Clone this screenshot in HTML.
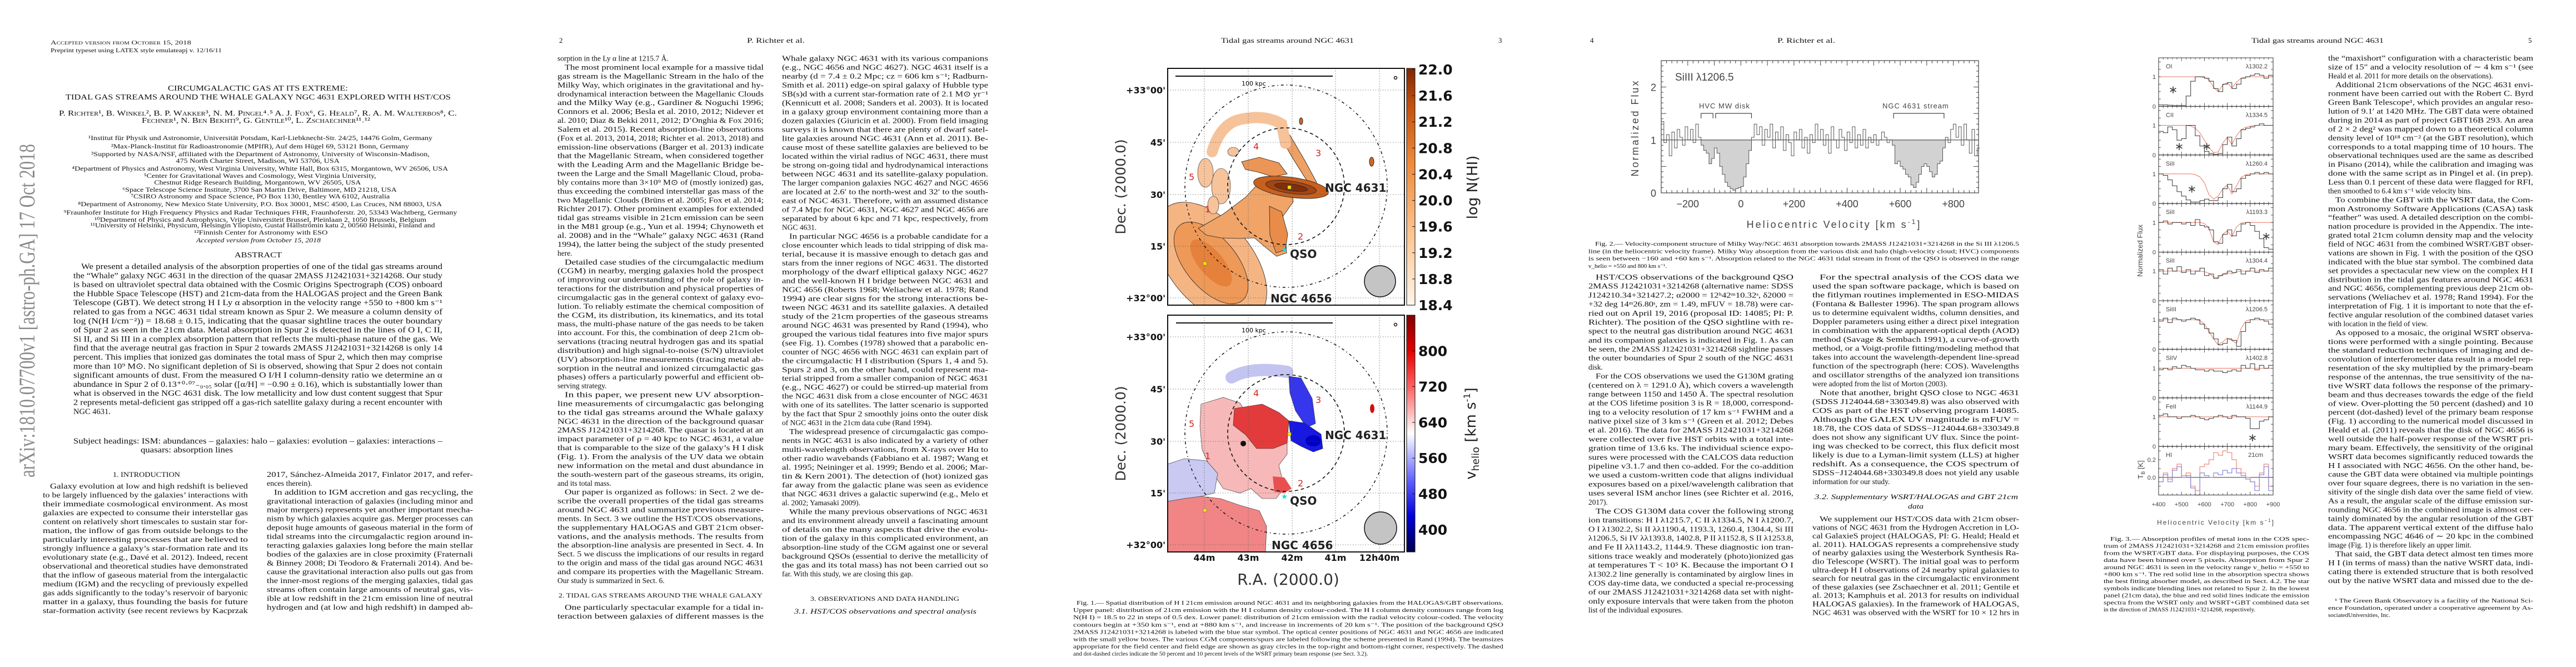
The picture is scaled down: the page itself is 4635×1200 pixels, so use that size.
<!DOCTYPE html>
<html><head><meta charset="utf-8">
<style>
html,body{margin:0;padding:0;background:#fff;}
svg{display:block;}
.tx{font-family:"Liberation Serif",serif;fill:#111;}
.sans{font-family:"DejaVu Sans","Liberation Sans",sans-serif;}
.mono{font-family:"Liberation Sans",sans-serif;fill:#444;}
</style></head>
<body>
<svg id="page" xmlns="http://www.w3.org/2000/svg" width="4635" height="1200" viewBox="0 0 4635 1200">
<rect x="0" y="0" width="4635" height="1200" fill="#fff"/>
<text class="tx" transform="translate(62,859) rotate(-90)" font-size="40" fill="#8a8a8a" style="fill:#8a8a8a" textLength="600" lengthAdjust="spacingAndGlyphs">arXiv:1810.07700v1  [astro-ph.GA]  17 Oct 2018</text>
<g id="text-layer"></g>

<!-- FIG 1 -->
<defs>
<linearGradient id="gOr" x1="0" y1="1" x2="0" y2="0">
<stop offset="0" stop-color="#fff5eb"/><stop offset="0.3" stop-color="#fdc590"/><stop offset="0.6" stop-color="#f08a3a"/><stop offset="0.85" stop-color="#c0500e"/><stop offset="1" stop-color="#7f2704"/></linearGradient>
<linearGradient id="gVel" x1="0" y1="1" x2="0" y2="0">
<stop offset="0" stop-color="#00004a"/><stop offset="0.15" stop-color="#0000d8"/><stop offset="0.3" stop-color="#6060ff"/><stop offset="0.5" stop-color="#ffffff"/><stop offset="0.7" stop-color="#ff6060"/><stop offset="0.85" stop-color="#e00000"/><stop offset="1" stop-color="#800000"/></linearGradient>
<clipPath id="mapClip"><rect x="0" y="0" width="426" height="426"/></clipPath>
<clipPath id="f2clip"><rect x="2989" y="109" width="571" height="143"/></clipPath>
</defs>

<g id="fig1-upper" transform="translate(2101,123)">
 <g clip-path="url(#mapClip)">
  <g transform="translate(78,350) rotate(50)">
   <ellipse cx="0" cy="0" rx="128" ry="75" fill="#f5b583" stroke="#222" stroke-width="0.8"/>
   <ellipse cx="0" cy="0" rx="88" ry="46" fill="#ee9957" stroke="#222" stroke-width="0.8"/>
   <ellipse cx="0" cy="0" rx="52" ry="22" fill="#e5813b"/>
  </g>
  <polygon points="55,288 100,262 140,232 165,205 195,200 222,205 226,240 206,268 212,300 214,332 196,338 176,322 156,305 128,306 96,305 70,300" fill="#f0a468" stroke="#222" stroke-width="0.8"/>
  <polygon points="133,168 165,160 200,170 215,190 190,195 160,186 140,182" fill="#eb9556" stroke="#222" stroke-width="0.8"/>
  <polygon points="203,112 220,120 248,168 268,205 260,216 244,192 224,160 208,132" fill="#efa064" stroke="#222" stroke-width="0.8"/>
  <path d="M80,150 Q95,100 130,92 Q175,82 205,100 L212,135" fill="none" stroke="#f6c29a" stroke-width="20" stroke-linecap="round"/>
  <g fill="#f6c39b" stroke="#222" stroke-width="0.6">
   <ellipse cx="68" cy="188" rx="14" ry="26"/><ellipse cx="96" cy="212" rx="17" ry="32"/><ellipse cx="82" cy="246" rx="10" ry="16"/><ellipse cx="118" cy="150" rx="10" ry="8"/>
  </g>
  <polygon points="183,248 205,258 216,298 212,326 195,332 184,300" fill="#e98c4a" stroke="#222" stroke-width="0.8"/>
  <g transform="translate(222,214) rotate(8)">
   <ellipse rx="68" ry="18" fill="#c8601e" stroke="#222" stroke-width="0.8"/>
   <ellipse rx="46" ry="11" fill="#a54513" stroke="#222" stroke-width="0.8"/>
   <ellipse rx="30" ry="6" fill="#7f2f0c" stroke="#222" stroke-width="0.8"/>
  </g>
  <ellipse cx="367" cy="168" rx="4" ry="8" fill="#d06a28" stroke="#222"/>
  <ellipse cx="240" cy="95" rx="3" ry="6" fill="#d06a28" stroke="#222"/>
 </g>
 <g class="grid"></g>
 <circle cx="213" cy="212" r="182" fill="none" stroke="#111" stroke-width="1.5" stroke-dasharray="1.5 5 5 5"/>
 <circle cx="213" cy="212" r="105" fill="none" stroke="#111" stroke-width="1.6" stroke-dasharray="6 5"/>
 <line x1="14" y1="14" x2="297" y2="14" stroke="#111" stroke-width="2"/>
 <text class="sans" x="155" y="31" font-size="11" text-anchor="middle">100 kpc</text>
 <circle cx="410" cy="17" r="2.5" fill="none" stroke="#111" stroke-width="1.5"/>
 <circle cx="382" cy="383" r="28" fill="#c4c4c4" stroke="#111" stroke-width="1.5"/>
 <rect x="216" y="211" width="6" height="6" fill="#f5e600" stroke="#666" stroke-width="0.5"/>
 <rect x="64" y="348" width="6" height="6" fill="#f5e600" stroke="#666" stroke-width="0.5"/>
 <text x="210" y="331" font-size="14" fill="#25d8d8" text-anchor="middle">★</text>
 <text class="sans" x="283" y="222" font-size="20" font-weight="bold" fill="#222">NGC 4631</text>
 <text class="sans" x="220" y="341" font-size="20" font-weight="bold" fill="#222">QSO</text>
 <text class="sans" x="185" y="421" font-size="20" font-weight="bold" fill="#222">NGC 4656</text>
 <g class="sans" font-size="16" fill="#d42020">
  <text x="67" y="259">1</text><text x="234" y="308">2</text><text x="266" y="158">3</text><text x="154" y="146">4</text><text x="38" y="201">5</text>
 </g>
 <rect x="0" y="0" width="426" height="426" fill="none" stroke="#111" stroke-width="2"/>
</g>

<g id="fig1-lower" transform="translate(2101,567)">
 <g clip-path="url(#mapClip)">
  <polygon points="60,160 100,148 130,158 150,190 190,200 215,215 215,250 200,270 210,310 195,330 170,330 150,312 130,320 100,312 80,282 62,242 58,200" fill="#f6b8b8" stroke="#222" stroke-width="0.6"/>
  <polygon points="0,268 30,258 70,262 90,285 84,320 60,326 30,330 0,335" fill="#c9c9f2" stroke="#222" stroke-width="0.6"/>
  <polygon points="0,335 30,330 60,326 95,330 130,342 165,352 178,380 176,426 0,426" fill="#f18585" stroke="#222" stroke-width="0.6"/>
  <polygon points="120,168 170,160 200,175 218,190 215,230 190,240 160,240 140,215 118,198" fill="#e33b3b" stroke="#222" stroke-width="0.6"/>
  <path d="M115,112 Q150,92 215,102" fill="none" stroke="#c4c4f0" stroke-width="22" stroke-linecap="round"/>
  <polygon points="218,110 240,113 260,150 266,195 250,202 230,172 220,140" fill="#3636ec" stroke="#222" stroke-width="0.6"/>
  <polygon points="218,190 246,194 276,214 279,240 262,246 240,236 222,226" fill="#1818e0" stroke="#222" stroke-width="0.6"/>
  <ellipse cx="262" cy="226" rx="14" ry="10" fill="#0000c4"/>
  <polygon points="189,290 210,292 223,312 210,320 192,318" fill="#e85050"/>
  <ellipse cx="368" cy="168" rx="4" ry="8" fill="#d01010"/>
  <circle cx="136" cy="231" r="5" fill="#111"/>
 </g>
 <g class="grid"></g>
 <circle cx="213" cy="212" r="182" fill="none" stroke="#111" stroke-width="1.5" stroke-dasharray="1.5 5 5 5"/>
 <circle cx="213" cy="212" r="105" fill="none" stroke="#111" stroke-width="1.6" stroke-dasharray="6 5"/>
 <line x1="15" y1="14" x2="297" y2="14" stroke="#111" stroke-width="2"/>
 <text class="sans" x="155" y="31" font-size="11" text-anchor="middle">100 kpc</text>
 <circle cx="410" cy="17" r="2.5" fill="none" stroke="#111" stroke-width="1.5"/>
 <circle cx="383" cy="383" r="29" fill="#c4c4c4" stroke="#111" stroke-width="1.5"/>
 <rect x="216" y="211" width="6" height="6" fill="#f5e600" stroke="#666" stroke-width="0.5"/>
 <rect x="64" y="348" width="6" height="6" fill="#f5e600" stroke="#666" stroke-width="0.5"/>
 <text x="210" y="331" font-size="14" fill="#25d8d8" text-anchor="middle">★</text>
 <text class="sans" x="283" y="223" font-size="20" font-weight="bold" fill="#222">NGC 4631</text>
 <text class="sans" x="220" y="341" font-size="20" font-weight="bold" fill="#222">QSO</text>
 <text class="sans" x="187" y="421" font-size="20" font-weight="bold" fill="#222">NGC 4656</text>
 <g class="sans" font-size="16" fill="#d42020">
  <text x="67" y="259">1</text><text x="234" y="308">2</text><text x="266" y="158">3</text><text x="154" y="146">4</text><text x="38" y="201">5</text>
 </g>
 <rect x="0" y="0" width="426" height="426" fill="none" stroke="#111" stroke-width="2"/>
</g>
<rect x="2531" y="123" width="15" height="426" fill="url(#gOr)" stroke="#111" stroke-width="1"/>
<rect x="2531" y="567" width="15" height="426" fill="url(#gVel)" stroke="#111" stroke-width="1"/>
<text class="sans" transform="translate(2658,337) rotate(-90)" font-size="26" text-anchor="middle" fill="#222">log N(HI)</text>
<text class="sans" transform="translate(2655,780) rotate(-90)" font-size="26" text-anchor="middle" fill="#222">v<tspan font-size="18" dy="6">helio</tspan><tspan dy="-6"> [km s</tspan><tspan font-size="16" dy="-10">-1</tspan><tspan dy="10">]</tspan></text>
<text class="sans" transform="translate(2025,336) rotate(-90)" font-size="25" text-anchor="middle" fill="#333">Dec. (2000.0)</text>
<text class="sans" transform="translate(2025,780) rotate(-90)" font-size="25" text-anchor="middle" fill="#333">Dec. (2000.0)</text>
<text class="sans" x="2318" y="1052" font-size="28" text-anchor="middle" fill="#333">R.A. (2000.0)</text>
<g id="fig1-axes"></g>

<!-- FIG 2 -->
<g id="fig2">
 <g id="f2fill"></g>
 <path id="f2line" fill="none" stroke="#555" stroke-width="1"/>
 <line id="f2cont" stroke="#444" stroke-width="1.2"/>
 <g id="f2ticks"></g>
 <rect x="2989" y="109" width="571" height="238" fill="none" stroke="#444" stroke-width="1.2"/>
 <text class="mono" x="3014" y="145" font-size="19">SiIII λ1206.5</text>
 <text class="mono" x="3057" y="195" font-size="13" letter-spacing="1">HVC  MW  disk</text>
 <text class="mono" x="3387" y="195" font-size="13" letter-spacing="1">NGC  4631  stream</text>
 <g id="f2brackets"></g>
 <text class="mono" transform="translate(2948,230) rotate(-90)" font-size="18" text-anchor="middle" letter-spacing="3">Normalized Flux</text>
 <text class="mono" x="3300" y="410" font-size="18" text-anchor="middle" letter-spacing="3">Heliocentric Velocity [km s<tspan font-size="12" dy="-7">-1</tspan><tspan dy="7">]</tspan></text>
</g>

<!-- FIG 3 -->
<g id="fig3"></g>
<text class="mono" transform="translate(3855,451) rotate(-90)" font-size="13" text-anchor="middle">Normalized Flux</text>
<text class="mono" transform="translate(3856,845) rotate(-90)" font-size="13" text-anchor="middle">T<tspan font-size="9" dy="3">B</tspan><tspan dy="-3"> [K]</tspan></text>
<text class="mono" x="3987" y="944" font-size="12" text-anchor="middle" letter-spacing="2">Heliocentric Velocity [km s<tspan font-size="8" dy="-5">−1</tspan><tspan dy="5">]</tspan></text>
</svg>

<script>
const NS="http://www.w3.org/2000/svg";
// ---------- Fig 1 axis data ----------
const decTickLabels=["+33°00'","45'","30'","15'","+32°00'"];
const decTickPos=[39,133,227,320,413];
const raTickLabels=["44m","43m","42m","41m","12h40m"];
const raTickPos=[66,145,224,302,381];
const nhiTicks=[22.0,21.6,21.2,20.8,20.4,20.0,19.6,19.2,18.8,18.4];
const velTicks=[800,720,640,560,480,400];
// ---------- Fig 2 data ----------
const f2VelStart=-300, f2VelStep=10;
const f2Flux=[1.35,0.95,1.1,0.7,1.15,0.85,1.2,1.05,0.9,1.25,
1.0,1.2,0.95,1.3,1.05, 0.9,0.8,0.75,0.55,0.65, 0.85,0.75,0.5,0.35,0.2, 0.12,0.08,0.05,0.08,0.1,
0.12,0.3,0.55,0.8,1.05, 1.3,1.1,1.25,0.9,1.2, 1.05,1.3,0.85,1.15,1.0, 1.25,0.8,1.1,0.95,0.7,
1.15,1.0,1.2,0.85,1.05, 0.75,1.1,0.95,1.3,1.0, 1.2,0.9,1.1,0.75,1.25, 1.0,0.85,1.2,1.05,0.8,
1.15,0.95,1.25,0.85,1.1, 0.9,1.2,0.85,1.05,0.95, 1.1,0.9,1.0,1.15,1.05, 0.95,1.0,0.9,0.55,0.6,
0.5,0.45,0.35,0.3,0.15, 0.1,0.2,0.35,0.5,0.55, 0.5,0.4,0.3,0.35,0.55, 0.6,0.85,1.05,0.95,1.2,
1.3,1.05,1.25,0.9,1.3, 1.0,0.75,1.2,0.7,0.85];
const f2FillRanges=[[-160,45],[560,775]];
const f2Brackets=[[-150,-105],[-95,40],[575,765]];
const f2XTicks=[-200,0,200,400,600,800];
const f2XTickLabels=["−200","0","+200","+400","+600","+800"];
const f2YTicks=[0,1,2];
// ---------- Fig 3 data ----------
const f3BinStart=400, f3BinStep=20;
const ionNames=["OI","CII","SiII","SiII","SiII","SiIII","SiIV","FeII"];
const lineNames=["λ1302.2","λ1334.5","λ1260.4","λ1193.3","λ1304.4","λ1206.5","λ1402.8","λ1144.9"];
const fluxOI=[0.05,0.05,0.04,0.03,0.03,0.03,0.35,0.85,1.0,1.0,0.95,0.85,0.6,0.5,0.75,0.8,0.6,0.75,0.95,1.0,1.05,1.1,1.05,0.95,1.05];
const fluxCII=[0.8,0.75,0.95,0.85,0.5,0.55,1.0,1.0,0.65,0.3,0.12,0.05,0.02,0.05,0.35,0.6,0.3,0.55,0.85,0.9,0.95,1.0,1.05,1.0,1.0];
const fluxSiII1260=[1.0,0.95,0.8,0.6,0.4,0.25,0.12,0.05,0.05,0.1,0.15,0.1,0.1,0.2,0.5,0.65,0.4,0.5,0.85,0.95,1.0,1.05,1.0,1.05,1.0];
const fluxSiII1193=[1.0,1.05,0.95,1.0,1.0,0.95,1.0,0.9,1.1,0.9,0.85,0.75,0.35,0.3,0.6,0.75,0.55,0.7,0.95,1.0,0.9,0.7,0.45,0.15,0.1];
const fluxSiII1304=[1.05,0.9,1.1,1.0,1.15,0.95,1.05,0.9,1.0,1.1,0.85,0.9,0.75,0.85,0.9,1.0,0.95,1.05,0.9,1.0,1.1,0.95,1.05,1.0,1.1];
const fluxSiIII=[0.95,1.05,0.9,1.05,1.0,0.95,1.0,1.05,1.0,0.85,0.7,0.55,0.35,0.15,0.2,0.35,0.3,0.1,0.6,0.9,1.0,1.05,1.0,0.95,0.85];
const fluxSiIV=[0.95,1.0,0.95,1.05,1.0,1.1,1.05,1.0,0.95,0.95,0.9,0.95,0.9,0.9,0.85,0.9,0.95,0.9,1.1,1.0,1.15,0.95,1.1,1.0,1.1];
const fluxFeII=[1.05,1.1,1.0,1.0,0.95,1.0,1.0,1.05,1.0,0.95,0.9,0.95,1.0,1.05,1.0,0.95,1.05,1.0,1.0,0.95,0.6,0.6,0.85,0.9,1.0];
const modelOI=[1,1,1,1,1,1,1,1,1,1,0.98,0.9,0.65,0.5,0.72,0.8,0.62,0.82,0.95,0.99,1,1,1,1,1,1];
const modelCII=[1,1,1,1,1,1,1,0.98,0.9,0.75,0.5,0.25,0.08,0.1,0.4,0.6,0.35,0.65,0.85,0.93,0.97,1,1,1,1,1];
const modelSiII1260=[1,1,1,1,1,1,1,1,0.98,0.9,0.7,0.3,0.15,0.25,0.5,0.62,0.32,0.6,0.88,0.97,1,1,1,1,1,1];
const modelSiII1193=[1,1,1,1,1,1,1,1,1,1,0.97,0.8,0.35,0.25,0.6,0.72,0.52,0.85,0.98,1,1,1,1,1,1,1];
const modelSiII1304=[1,1,1,1,1,1,1,1,1,1,0.98,0.93,0.8,0.77,0.9,0.95,0.9,0.97,1,1,1,1,1,1,1,1];
const modelSiIII=[1,1,1,1,1,1,1,1,1,0.97,0.85,0.6,0.35,0.15,0.25,0.38,0.3,0.2,0.7,0.95,1,1,1,1,1,1];
const modelSiIV=[1,1,1,1,1,1,1,1,1,1,1,1,1,1,1,1,1,1,1,1,1,1,1,1,1,1];
const modelFeII=[1,1,1,1,1,1,1,1,1,1,1,1,1,1,1,1,1,1,1,1,1,1,1,1,1,1];
const hiCombined=[-0.05,0.05,-0.02,0.1,0.15,0.02,0.05,-0.1,-0.15,0.12,0.15,0.2,0.28,0.25,0.3,0.28,0.2,0.1,0.05,0.0,-0.05,-0.1,0.05,0.15,-0.1];
const hiWsrt=[-0.05,0.03,-0.05,0.08,0.12,0.0,0.02,-0.12,-0.2,0.05,0.02,0.0,0.05,0.03,0.08,0.05,0.1,0.05,0.02,-0.02,-0.05,-0.15,0.03,0.12,-0.15];
const blendStars=[[0,463,0.57],[1,490,0.3],[1,610,0.3],[2,545,0.5],[3,870,0.55],[7,810,0.3]];
const f3XTicks=[400,500,600,700,800,900];
const f3XTickLabels=["+400","+500","+600","+700","+800","+900"];

function mk(tag,attrs,parent){const e=document.createElementNS(NS,tag);for(const k in attrs)e.setAttribute(k,attrs[k]);(parent||document.getElementById('page')).appendChild(e);return e;}

// ---------- Fig 1 axes ----------
const f1ax=document.getElementById('fig1-axes');
document.querySelectorAll('.grid').forEach(g=>{
 raTickPos.forEach(x=>{const l=mk('line',{x1:x,y1:0,x2:x,y2:426,stroke:'#555','stroke-width':0.8,'stroke-dasharray':'1.5 3'},g);});
 decTickPos.forEach(y=>{const l=mk('line',{x1:0,y1:y,x2:426,y2:y,stroke:'#555','stroke-width':0.8,'stroke-dasharray':'1.5 3'},g);});
});
[123,567].forEach(top=>{
 decTickLabels.forEach((s,i)=>{const t=mk('text',{x:2097,y:top+decTickPos[i]+6,'font-size':16,'font-weight':'bold','text-anchor':'end',class:'sans',fill:'#111'},f1ax);t.textContent=s;});
});
raTickLabels.forEach((s,i)=>{const t=mk('text',{x:2101+raTickPos[i],y:1009,'font-size':16,'font-weight':'bold','text-anchor':'middle',class:'sans',fill:'#111'},f1ax);t.textContent=s;});
function cbY1(v){return 549-(v-18.4)/(22.0-18.4)*424;}
function cbY2(v){return 993-(v-350)/(880-350)*426;}
nhiTicks.forEach(v=>{const y=cbY1(v);const t=mk('text',{x:2552,y:y+9,'font-size':25,'font-weight':'bold',class:'sans',fill:'#111'},f1ax);t.textContent=v.toFixed(1);const l=mk('line',{x1:2541,x2:2546,y1:y,y2:y,stroke:'#111'},f1ax);});
velTicks.forEach(v=>{const y=cbY2(v);const t=mk('text',{x:2552,y:y+9,'font-size':25,'font-weight':'bold',class:'sans',fill:'#111'},f1ax);t.textContent=String(v);const l=mk('line',{x1:2541,x2:2546,y1:y,y2:y,stroke:'#111'},f1ax);});

// ---------- Fig 2 ----------
const F2={x0:2989,x1:3560,y0:347,y1:109,vmin:-300,vmax:895,fmin:0,fmax:2.5};
function f2x(v){return F2.x0+(v-F2.vmin)/(F2.vmax-F2.vmin)*(F2.x1-F2.x0);}
function f2y(f){return F2.y0-(f-F2.fmin)/(F2.fmax-F2.fmin)*(F2.y0-F2.y1);}
function stepPath(vals,start,step,X,Y,from,to){let d='';let first=true;vals.forEach((f,i)=>{let a=start+i*step,b=a+step;if(from!==undefined){if(b<=from||a>=to)return;a=Math.max(a,from);b=Math.min(b,to);}d+=(first?'M':'L')+X(a).toFixed(1)+','+Y(f).toFixed(1)+'L'+X(b).toFixed(1)+','+Y(f).toFixed(1);first=false;});return d;}
document.getElementById('f2line').setAttribute('d',stepPath(f2Flux,f2VelStart,f2VelStep,f2x,f2y));
const f2fill=document.getElementById('f2fill');
f2FillRanges.forEach(r=>{let d=stepPath(f2Flux,f2VelStart,f2VelStep,f2x,f2y,r[0],r[1]);d+='L'+f2x(r[1]).toFixed(1)+','+f2y(1)+'L'+f2x(r[0]).toFixed(1)+','+f2y(1)+'Z';const p=mk('path',{d:d,fill:'#d2d2d2','clip-path':'url(#f2fill-clip)'},f2fill);});
// clip fill to below continuum
(function(){const cp=mk('clipPath',{id:'f2fill-clip'},document.querySelector('defs'));mk('rect',{x:F2.x0,y:f2y(1),width:F2.x1-F2.x0,height:F2.y0-f2y(1)},cp);})();
const cont=document.getElementById('f2cont');cont.setAttribute('x1',F2.x0);cont.setAttribute('x2',F2.x1);cont.setAttribute('y1',f2y(1));cont.setAttribute('y2',f2y(1));
const f2t=document.getElementById('f2ticks');
for(let v=-300;v<=880;v+=20){const major=(v%100===0);const L=major?9:5;const x=f2x(v);
 const a=mk('line',{x1:x,x2:x,y1:F2.y0,y2:F2.y0-L,stroke:'#444'},f2t);
 const b=mk('line',{x1:x,x2:x,y1:F2.y1,y2:F2.y1+L,stroke:'#444'},f2t);}
for(let k=0;k<=25;k++){const f=k/10;const major=(k%5===0);const L=major?9:4;const y=f2y(f);
 const a=mk('line',{x1:F2.x0,x2:F2.x0+L,y1:y,y2:y,stroke:'#444'},f2t);
 const b=mk('line',{x1:F2.x1,x2:F2.x1-L,y1:y,y2:y,stroke:'#444'},f2t);}
f2XTicks.forEach((v,i)=>{const t=mk('text',{x:f2x(v),y:373,'font-size':18,'text-anchor':'middle',class:'mono'},f2t);t.textContent=f2XTickLabels[i];});
f2YTicks.forEach(v=>{const t=mk('text',{x:2980,y:f2y(v)+7,'font-size':18,'text-anchor':'end',class:'mono'},f2t);t.textContent=String(v);});
const f2b=document.getElementById('f2brackets');
f2Brackets.forEach(r=>{const p=mk('path',{d:'M'+f2x(r[0])+',213V204H'+f2x(r[1])+'V213',fill:'none',stroke:'#444','stroke-width':1.2},f2b);});

// ---------- Fig 3 ----------
const F3={x0:3884,x1:4090,vmin:400,vmax:900,top:104,h:87.4};
function f3x(v){return F3.x0+(v-F3.vmin)/(F3.vmax-F3.vmin)*(F3.x1-F3.x0);}
const fluxPanels=[fluxOI,fluxCII,fluxSiII1260,fluxSiII1193,fluxSiII1304,fluxSiIII,fluxSiIV,fluxFeII];
const modelPanels=[modelOI,modelCII,modelSiII1260,modelSiII1193,modelSiII1304,modelSiIII,modelSiIV,modelFeII];
const g3=document.getElementById('fig3');
function ticksFor(g,pt,ph,ylist,Y){
 for(let v=400;v<=900;v+=20){const major=v%100===0;const L=major?6:3;const x=f3x(v);
  const a=mk('line',{x1:x,x2:x,y1:pt+ph,y2:pt+ph-L,stroke:'#333','stroke-width':0.8},g);
  const b=mk('line',{x1:x,x2:x,y1:pt,y2:pt+L,stroke:'#333','stroke-width':0.8},g);}
 ylist.forEach(f=>{const y=Y(f);const a=mk('line',{x1:F3.x0,x2:F3.x0+4,y1:y,y2:y,stroke:'#333','stroke-width':0.8},g);const b=mk('line',{x1:F3.x1,x2:F3.x1-4,y1:y,y2:y,stroke:'#333','stroke-width':0.8},g);});
}
fluxPanels.forEach((vals,p)=>{
 const pt=F3.top+p*F3.h;const Y=f=>pt+F3.h-f/1.64*F3.h;
 const g=mk('g',{},g3);
 const m=modelPanels[p];let d='';m.forEach((f,i)=>{d+=(i?'L':'M')+f3x(f3BinStart+i*f3BinStep).toFixed(1)+','+Y(f).toFixed(1);});
 const mp=mk('path',{d:d,fill:'none',stroke:'#e87560','stroke-width':1},g);
 const sp=mk('path',{d:stepPath(vals,f3BinStart,f3BinStep,f3x,Y),fill:'none',stroke:'#333','stroke-width':1},g);
 const fr=mk('rect',{x:F3.x0,y:pt,width:F3.x1-F3.x0,height:F3.h,fill:'none',stroke:'#333','stroke-width':1},g);
 ticksFor(g,pt,F3.h,[0,0.25,0.5,0.75,1,1.25,1.5],Y);
 const t1=mk('text',{x:3897,y:pt+19,'font-size':11,class:'mono'},g);t1.textContent=ionNames[p];
 const t2=mk('text',{x:4080,y:pt+19,'font-size':11,'text-anchor':'end',class:'mono'},g);t2.textContent=lineNames[p];
 const a=mk('text',{x:3879,y:Y(1)+4,'font-size':11,'text-anchor':'end',class:'mono'},g);a.textContent='1';
 const b=mk('text',{x:3879,y:Y(0)+4,'font-size':11,'text-anchor':'end',class:'mono'},g);b.textContent='0';
});
blendStars.forEach(s=>{const pt=F3.top+s[0]*F3.h;const y=pt+F3.h-s[2]/1.64*F3.h;const t=mk('text',{x:f3x(s[1]),y:y+7,'font-size':20,'text-anchor':'middle',class:'mono',fill:'#222'},g3);t.textContent='∗';});
(function(){const pt=F3.top+8*F3.h;const Y=f=>pt+F3.h-(f+0.2)/0.55*F3.h;
 const g=mk('g',{},g3);
 const z=mk('line',{x1:F3.x0,x2:F3.x1,y1:Y(0),y2:Y(0),stroke:'#333'},g);
 const r=mk('path',{d:stepPath(hiCombined,f3BinStart,f3BinStep,f3x,Y),fill:'none',stroke:'#ee8877','stroke-width':1.2},g);
 const b=mk('path',{d:stepPath(hiWsrt,f3BinStart,f3BinStep,f3x,Y),fill:'none',stroke:'#8888dd','stroke-width':1.2},g);
 const fr=mk('rect',{x:F3.x0,y:pt,width:F3.x1-F3.x0,height:F3.h,fill:'none',stroke:'#333','stroke-width':1},g);
 ticksFor(g,pt,F3.h,[-0.1,0,0.1,0.2,0.3],Y);
 const t1=mk('text',{x:3897,y:pt+19,'font-size':11,class:'mono'},g);t1.textContent='HI';
 const t2=mk('text',{x:4072,y:pt+19,'font-size':11,'text-anchor':'end',class:'mono'},g);t2.textContent='21cm';
 [[0.2,'0.2'],[0,'0.0']].forEach(q=>{const t=mk('text',{x:3879,y:Y(q[0])+4,'font-size':11,'text-anchor':'end',class:'mono'},g);t.textContent=q[1];});
 f3XTicks.forEach((v,i)=>{const t=mk('text',{x:f3x(v),y:911,'font-size':11,'text-anchor':'middle',class:'mono'},g3);t.textContent=f3XTickLabels[i];});
})();

// ---------- Text ----------
const TL=document.getElementById('text-layer');
function line(s,x,y,w,fs,extra){const t=mk('text',Object.assign({x:x,y:y,'font-size':fs,class:'tx'},extra||{}),TL);
 if(w){t.setAttribute('textLength',w);t.setAttribute('lengthAdjust','spacingAndGlyphs');}
 t.textContent=s;return t;}
function col(lines,x,y0,w,dy,fs,ind){ind=ind||13;lines.forEach((s,i)=>{let xi=x,wi=w;if(s[0]==='>'){s=s.slice(1);xi=x+ind;wi=w-ind;}let last=false;if(s.endsWith('|')){s=s.slice(0,-1);last=true;}line(s,xi,y0+i*dy+4,last?null:wi,fs);});}
function span(s,x0,x1,y,fs,extra){line(s,x0,y+4,x1-x0,fs,extra);}

// page headers
span("Accepted version from October 15, 2018",91,344,76,11,{'font-variant':'small-caps'});
span("Preprint typeset using LATEX style emulateapj v. 12/16/11",91,399,90,10);
line("2",1006,77,null,13);span("P. Richter et al.",1344,1448,73,13);
span("Tidal gas streams around NGC 4631",2197,2436,73,13);line("3",2696,77,null,13);
line("4",2861,77,null,13);span("P. Richter et al.",3198,3302,73,13);
span("Tidal gas streams around NGC 4631",4051,4289,73,13);line("5",4549,77,null,13);

// page 1 front matter
span("CIRCUMGALACTIC GAS AT ITS EXTREME:",302,626,159,13.5);
span("TIDAL GAS STREAMS AROUND THE WHALE GALAXY NGC 4631 EXPLORED WITH HST/COS",118,811,175,13.5);
span("P. Richter¹, B. Winkel², B. P. Wakker³, N. M. Pingel⁴˒⁵ A. J. Fox⁶, G. Heald⁷, R. A. M. Walterbos⁸, C.",106,822,204,14,{'font-variant':'small-caps'});
span("Fechner¹, N. Ben Bekhti⁹, G. Gentile¹⁰, L. Zschaechner¹¹˒¹²",255,666,217,14,{'font-variant':'small-caps'});
const affil=[["¹Institut für Physik und Astronomie, Universität Potsdam, Karl-Liebknecht-Str. 24/25, 14476 Golm, Germany",215,1052,248],
["²Max-Planck-Institut für Radioastronomie (MPIfR), Auf dem Hügel 69, 53121 Bonn, Germany",270,995,263],
["³Supported by NASA/NSF, affiliated with the Department of Astronomy, University of Wisconsin-Madison,",222,1045,277],
["475 North Charter Street, Madison, WI 53706, USA",428,826,289],
["⁴Department of Physics and Astronomy, West Virginia University, White Hall, Box 6315, Morgantown, WV 26506, USA",175,1090,303],
["⁵Center for Gravitational Waves and Cosmology, West Virginia University,",350,915,316],
["Chestnut Ridge Research Building, Morgantown, WV 26505, USA",375,878,328],
["⁶Space Telescope Science Institute, 3700 San Martin Drive, Baltimore, MD 21218, USA",298,965,341],
["⁷CSIRO Astronomy and Space Science, PO Box 1130, Bentley WA 6102, Australia",318,948,353],
["⁸Department of Astronomy, New Mexico State University, P.O. Box 30001, MSC 4500, Las Cruces, NM 88003, USA",190,1075,367],
["⁹Fraunhofer Institute for High Frequency Physics and Radar Techniques FHR, Fraunhoferstr. 20, 53343 Wachtberg, Germany",155,1112,382],
["¹⁰Department of Physics and Astrophysics, Vrije Universiteit Brussel, Pleinlaan 2, 1050 Brussels, Belgium",230,1037,395],
["¹¹University of Helsinki, Physicum, Helsingin Yliopisto, Gustaf Hällströmin katu 2, 00560 Helsinki, Finland and",220,1058,405],
["¹²Finnish Center for Astronomy with ESO",472,797,418]];
affil.forEach(a=>span(a[0],a[1]/1.352,a[2]/1.352,a[3],11.5));
span("Accepted version from October 15, 2018",353,577,432,12,{'font-style':'italic'});
span("ABSTRACT",422,507,459,14);
col([">We present a detailed analysis of the absorption properties of one of the tidal gas streams around",
"the “Whale” galaxy NGC 4631 in the direction of the quasar 2MASS J12421031+3214268. Our study",
"is based on ultraviolet spectral data obtained with the Cosmic Origins Spectrograph (COS) onboard",
"the Hubble Space Telescope (HST) and 21cm-data from the HALOGAS project and the Green Bank",
"Telescope (GBT). We detect strong H I Ly α absorption in the velocity range +550 to +800 km s⁻¹",
"related to gas from a NGC 4631 tidal stream known as Spur 2. We measure a column density of",
"log (N(H I/cm⁻²)) = 18.68 ± 0.15, indicating that the quasar sightline traces the outer boundary",
"of Spur 2 as seen in the 21cm data. Metal absorption in Spur 2 is detected in the lines of O I, C II,",
"Si II, and Si III in a complex absorption pattern that reflects the multi-phase nature of the gas. We",
"find that the average neutral gas fraction in Spur 2 towards 2MASS J12421031+3214268 is only 14",
"percent. This implies that ionized gas dominates the total mass of Spur 2, which then may comprise",
"more than 10⁹ M⊙. No significant depletion of Si is observed, showing that Spur 2 does not contain",
"significant amounts of dust. From the measured O I/H I column-density ratio we determine an α",
"abundance in Spur 2 of 0.13⁺⁰·⁰⁷₋₀.₀₅ solar ([α/H] = −0.90 ± 0.16), which is substantially lower than",
"what is observed in the NGC 4631 disk. The low metallicity and low dust content suggest that Spur",
"2 represents metal-deficient gas stripped off a gas-rich satellite galaxy during a recent encounter with",
"NGC 4631.|"],132,480,664,16.3,14.5,14);
span("Subject headings: ISM: abundances – galaxies: halo – galaxies: evolution – galaxies: interactions –",132,796,794,14.5);
span("quasars: absorption lines",253,419,810,14.5);
span("1. INTRODUCTION",203,324,854,12.5);
col([">Galaxy evolution at low and high redshift is believed","to be largely influenced by the galaxies’ interactions with","their immediate cosmological environment. As most","galaxies are expected to consume their interstellar gas","content on relatively short timescales to sustain star for-","mation, the inflow of gas from outside belongs to the","particularly interesting processes that are believed to","strongly influence a galaxy’s star-formation rate and its","evolutionary state (e.g., Davé et al. 2012). Indeed, recent","observational and theoretical studies have demonstrated","that the inflow of gaseous material from the intergalactic","medium (IGM) and the recycling of previously expelled","gas adds significantly to the today’s reservoir of baryonic","matter in a galaxy, thus founding the basis for future","star-formation activity (see recent reviews by Kacprzak"],77,875,369,16.0,14);
col(["2017, Sánchez-Almeida 2017, Finlator 2017, and refer-","ences therein).|",">In addition to IGM accretion and gas recycling, the","gravitational interaction of galaxies (including minor and","major mergers) represents yet another important mecha-","nism by which galaxies acquire gas. Merger processes can","deposit huge amounts of gaseous material in the form of","tidal streams into the circumgalactic region around in-","teracting galaxies galaxies long before the main stellar","bodies of the galaxies are in close proximity (Fraternali","& Binney 2008; Di Teodoro & Fraternali 2014). And be-","cause the gravitational interaction also pulls out gas from","the inner-most regions of the merging galaxies, tidal gas","streams often contain large amounts of neutral gas, vis-","ible at low redshift in the 21cm emission line of neutral","hydrogen and (at low and high redshift) in damped ab-"],480,854,371,15.93,14);

// page 2
col(["sorption in the Ly α line at 1215.7 Å.|",">The most prominent local example for a massive tidal","gas stream is the Magellanic Stream in the halo of the","Milky Way, which originates in the gravitational and hy-","drodynamical interaction between the Magellanic Clouds","and the Milky Way (e.g., Gardiner & Noguchi 1996;","Connors et al. 2006; Besla et al. 2010, 2012; Nidever et","al. 2010; Diaz & Bekki 2011, 2012; D’Onghia & Fox 2016;","Salem et al. 2015). Recent absorption-line observations","(Fox et al. 2013, 2014, 2018; Richter et al. 2013, 2018) and","emission-line observations (Barger et al. 2013) indicate","that the Magellanic Stream, when considered together","with the Leading Arm and the Magellanic Bridge be-","tween the Large and the Small Magellanic Cloud, proba-","bly contains more than 3×10⁹ M⊙ of (mostly ionized) gas,","thus exceeding the combined interstellar gas mass of the","two Magellanic Clouds (Brüns et al. 2005; Fox et al. 2014;","Richter 2017). Other prominent examples for extended","tidal gas streams visible in 21cm emission can be seen","in the M81 group (e.g., Yun et al. 1994; Chynoweth et","al. 2008) and in the “Whale” galaxy NGC 4631 (Rand","1994), the latter being the subject of the study presented","here.|",">Detailed case studies of the circumgalactic medium","(CGM) in nearby, merging galaxies hold the prospect","of improving our understanding of the role of galaxy in-","teractions for the distribution and physical properties of","circumgalactic gas in the general context of galaxy evo-","lution. To reliably estimate the chemical composition of","the CGM, its distribution, its kinematics, and its total","mass, the multi-phase nature of the gas needs to be taken","into account. For this, the combination of deep 21cm ob-","servations (tracing neutral hydrogen gas and its spatial","distribution) and high signal-to-noise (S/N) ultraviolet","(UV) absorption-line measurements (tracing metal ab-","sorption in the neutral and ionized circumgalactic gas","phases) offers a particularly powerful and efficient ob-","serving strategy.|",">In this paper, we present new UV absorption-","line measurements of circumgalactic gas belonging","to the tidal gas streams around the Whale galaxy","NGC 4631 in the direction of the background quasar","2MASS J12421031+3214268. The quasar is located at an","impact parameter of ρ = 40 kpc to NGC 4631, a value","that is comparable to the size of the galaxy’s H I disk","(Fig. 1). From the analysis of the UV data we obtain","new information on the metal and dust abundance in","the south-western part of the gaseous streams, its origin,","and its total mass.|",">Our paper is organized as follows: in Sect. 2 we de-","scribe the overall properties of the tidal gas streams","around NGC 4631 and summarize previous measure-","ments. In Sect. 3 we outline the HST/COS observations,","the supplementary HALOGAS and GBT 21cm obser-","vations, and the analysis methods. The results from","the absorption-line analysis are presented in Sect. 4. In","Sect. 5 we discuss the implications of our results in regard","to the origin and mass of the tidal gas around NGC 4631","and compare its properties with the Magellanic Stream.","Our study is summarized in Sect. 6.|"],1003,105.6,371,15.92,13.5);
span("2. TIDAL GAS STREAMS AROUND THE WHALE GALAXY",1005,1372,1071,11.5);
col([">One particularly spectacular example for a tidal in-","teraction between galaxies of different masses is the"],1003,1093,371,16,13.5);
col(["Whale galaxy NGC 4631 with its various companions","(e.g., NGC 4656 and NGC 4627). NGC 4631 itself is a","nearby (d = 7.4 ± 0.2 Mpc; cz = 606 km s⁻¹; Radburn-","Smith et al. 2011) edge-on spiral galaxy of Hubble type","SB(s)d with a current star-formation rate of 2.1 M⊙ yr⁻¹","(Kennicutt et al. 2008; Sanders et al. 2003). It is located","in a galaxy group environment containing more than a","dozen galaxies (Giuricin et al. 2000). From field imaging","surveys it is known that there are plenty of dwarf satel-","lite galaxies around NGC 4631 (Ann et al. 2011). Be-","cause most of these satellite galaxies are believed to be","located within the virial radius of NGC 4631, there must","be strong on-going tidal and hydrodynamical interactions","between NGC 4631 and its satellite-galaxy population.","The larger companion galaxies NGC 4627 and NGC 4656","are located at 2.6′ to the north-west and 32′ to the south-","east of NGC 4631. Therefore, with an assumed distance","of 7.4 Mpc for NGC 4631, NGC 4627 and NGC 4656 are","separated by about 6 kpc and 71 kpc, respectively, from","NGC 4631.|",">In particular NGC 4656 is a probable candidate for a","close encounter which leads to tidal stripping of disk ma-","terial, because it is massive enough to detach gas and","stars from the inner regions of NGC 4631. The distorted","morphology of the dwarf elliptical galaxy NGC 4627","and the well-known H I bridge between NGC 4631 and","NGC 4656 (Roberts 1968; Weliachew et al. 1978; Rand","1994) are clear signs for the strong interactions be-","tween NGC 4631 and its satellite galaxies. A detailed","study of the 21cm properties of the gaseous streams","around NGC 4631 was presented by Rand (1994), who","grouped the various tidal features into five major spurs","(see Fig. 1). Combes (1978) showed that a parabolic en-","counter of NGC 4656 with NGC 4631 can explain part of","the circumgalactic H I distribution (Spurs 1, 4 and 5).","Spurs 2 and 3, on the other hand, could represent ma-","terial stripped from a smaller companion of NGC 4631","(e.g., NGC 4627) or could be stirred-up material from","the NGC 4631 disk from a close encounter of NGC 4631","with one of its satellites. The latter scenario is supported","by the fact that Spur 2 smoothly joins onto the outer disk","of NGC 4631 in the 21cm data cube (Rand 1994).|",">The widespread presence of circumgalactic gas compo-","nents in NGC 4631 is also indicated by a variety of other","multi-wavelength observations, from X-rays over Hα to","other radio wavebands (Fabbiano et al. 1987; Wang et","al. 1995; Neininger et al. 1999; Bendo et al. 2006; Mar-","tin & Kern 2001). The detection of (hot) ionized gas","far away from the galactic plane was seen as evidence","that NGC 4631 drives a galactic superwind (e.g., Melo et","al. 2002; Yamasaki 2009).|",">While the many previous observations of NGC 4631","and its environment already unveil a fascinating amount","of details on the many aspects that drive the evolu-","tion of the galaxy in this complicated environment, an","absorption-line study of the CGM against one or several","background QSOs (essential to derive the metallicity of","the gas and its total mass) has not been carried out so","far. With this study, we are closing this gap.|"],1407,105.6,371,15.99,13.5);
span("3. OBSERVATIONS AND DATA HANDLING",1458,1726,1077,11.5);
span("3.1. HST/COS observations and spectral analysis",1429,1757,1100,13,{'font-style':'italic'});

// Fig 1 caption
col([">Fig. 1.— Spatial distribution of H I 21cm emission around NGC 4631 and its neighboring galaxies from the HALOGAS/GBT observations.","Upper panel: distribution of 21cm emission with the H I column density colour-coded. The H I column density contours range from log","N(H I) = 18.5 to 22 in steps of 0.5 dex. Lower panel: distribution of 21cm emission with the radial velocity colour-coded. The velocity","contours begin at +350 km s⁻¹, end at +880 km s⁻¹, and increase in increments of 20 km s⁻¹. The position of the background QSO","2MASS J12421031+3214268 is labeled with the blue star symbol. The optical center positions of NGC 4631 and NGC 4656 are indicated","with the small yellow boxes. The various CGM components/spurs are labeled following the scheme presented in Rand (1994). The beamsizes","appropriate for the field center and field edge are shown as gray circles in the top-right and bottom-right corner, respectively. The dashed","and dot-dashed circles indicate the 50 percent and 10 percent levels of the WSRT primary beam response (see Sect. 3.2).|"],1931,1084,774,13.1,11,6);

// page 4
col([">Fig. 2.— Velocity-component structure of Milky Way/NGC 4631 absorption towards 2MASS J12421031+3214268 in the Si III λ1206.5","line (in the heliocentric velocity frame). Milky Way absorption from the various disk and halo (high-velocity cloud; HVC) components","is seen between −160 and +60 km s⁻¹. Absorption related to the NGC 4631 tidal stream in front of the QSO is observed in the range","v_helio = +550 and 800 km s⁻¹.|"],2858,438,775,13.3,11,12);
col([">HST/COS observations of the background QSO","2MASS J12421031+3214268 (alternative name: SDSS","J124210.34+321427.2; α2000 = 12ʰ42ᵐ10.32ˢ, δ2000 =","+32 deg 14ᵐ26.80ˢ, zm = 1.49, mFUV = 18.78) were car-","ried out on April 19, 2016 (proposal ID: 14085; PI: P.","Richter). The position of the QSO sightline with re-","spect to the neutral gas distribution around NGC 4631","and its companion galaxies is indicated in Fig. 1. As can","be seen, the 2MASS J12421031+3214268 sightline passes","the outer boundaries of Spur 2 south of the NGC 4631","disk.|",">For the COS observations we used the G130M grating","(centered on λ = 1291.0 Å), which covers a wavelength","range between 1150 and 1450 Å. The spectral resolution","at the COS lifetime position 3 is R = 18,000, correspond-","ing to a velocity resolution of 17 km s⁻¹ FWHM and a","native pixel size of 3 km s⁻¹ (Green et al. 2012; Debes","et al. 2016). The data for 2MASS J12421031+3214268","were collected over five HST orbits with a total inte-","gration time of 13.6 ks. The individual science expo-","sures were processed with the CALCOS data reduction","pipeline v3.1.7 and then co-added. For the co-addition","we used a custom-written code that aligns individual","exposures based on a pixel/wavelength calibration that","uses several ISM anchor lines (see Richter et al. 2016,","2017).|",">The COS G130M data cover the following strong","ion transitions: H I λ1215.7, C II λ1334.5, N I λ1200.7,","O I λ1302.2, Si II λλ1190.4, 1193.3, 1260.4, 1304.4, Si III","λ1206.5, Si IV λλ1393.8, 1402.8, P II λ1152.8, S II λ1253.8,","and Fe II λλ1143.2, 1144.9. These diagnostic ion tran-","sitions trace weakly and moderately (photo)ionized gas","at temperatures T < 10⁵ K. Because the important O I","λ1302.2 line generally is contaminated by airglow lines in","COS day-time data, we conducted a special re-processing","of our 2MASS J12421031+3214268 data set with night-","only exposure intervals that were taken from the photon","list of the individual exposures.|"],2858,499,369,16.19,13.5);
col([">For the spectral analysis of the COS data we","used the span software package, which is based on","the fitlyman routines implemented in ESO-MIDAS","(Fontana & Ballester 1996). The span program allows","us to determine equivalent widths, column densities, and","Doppler parameters using either a direct pixel integration","in combination with the apparent-optical depth (AOD)","method (Savage & Sembach 1991), a curve-of-growth","method, or a Voigt-profile fitting/modeling method that","takes into account the wavelength-dependent line-spread","function of the spectrograph (here: COS). Wavelengths","and oscillator strengths of the analyzed ion transitions","were adopted from the list of Morton (2003).|",">Note that another, bright QSO close to NGC 4631","(SDSS J124044.68+330349.8) was also observed with","COS as part of the HST observing program 14085.","Although the GALEX UV magnitude is mFUV =","18.78, the COS data of SDSS−J124044.68+330349.8","does not show any significant UV flux. Since the point-","ing was checked to be correct, this flux deficit most","likely is due to a Lyman-limit system (LLS) at higher","redshift. As a consequence, the COS spectrum of","SDSS−J124044.68+330349.8 does not yield any usable","information for our study.|"],3261,499,372,16.0,13.5);
span("3.2. Supplementary WSRT/HALOGAS and GBT 21cm",3265,3631,894,13,{'font-style':'italic'});
span("data",3433,3461,911,13,{'font-style':'italic'});
col([">We supplement our HST/COS data with 21cm obser-","vations of NGC 4631 from the Hydrogen Accretion in LO-","cal GalaxieS project (HALOGAS, PI: G. Heald; Heald et","al. 2011). HALOGAS represents a comprehensive study","of nearby galaxies using the Westerbork Synthesis Ra-","dio Telescope (WSRT). The initial goal was to perform","ultra-deep H I observations of 24 nearby spiral galaxies to","search for neutral gas in the circumgalactic environment","of these galaxies (see Zschaechner et al. 2011; Gentile et","al. 2013; Kamphuis et al. 2013 for results on individual","HALOGAS galaxies). In the framework of HALOGAS,","NGC 4631 was observed with the WSRT for 10 × 12 hrs in"],3261,934,372,15.3,13.5);

// page 5
col([">Fig. 3.— Absorption profiles of metal ions in the COS spec-","trum of 2MASS J12421031+3214268 and 21cm emission profiles","from the WSRT/GBT data. For displaying purposes, the COS","data have been binned over 5 pixels. Absorption from Spur 2","around NGC 4631 is seen in the velocity range v_helio = +550 to","+800 km s⁻¹. The red solid line in the absorption spectra shows","the best fitting absorber model, as described in Sect. 4.2. The star","symbols indicate blending lines not related to Spur 2. In the lowest","panel (21cm data), the blue and red solid lines indicate the emission","spectra from the WSRT only and WSRT+GBT combined data set","in the direction of 2MASS J12421031+3214268, respectively.|"],3785,969,370,12.7,11,12);
col(["the “maxishort” configuration with a characteristic beam","size of 15″ and a velocity resolution of ∼ 4 km s⁻¹ (see","Heald et al. 2011 for more details on the observations).|",">Additional 21cm observations of the NGC 4631 envi-","ronment have been carried out with the Robert C. Byrd","Green Bank Telescope¹, which provides an angular reso-","lution of 9.1′ at 1420 MHz. The GBT data were obtained","during in 2014 as part of project GBT16B 293. An area","of 2 × 2 deg² was mapped down to a theoretical column","density level of 10¹⁸ cm⁻² (at the GBT resolution), which","corresponds to a total mapping time of 10 hours. The","observational techniques used are the same as described","in Pisano (2014), while the calibration and imaging was","done with the same script as in Pingel et al. (in prep).","Less than 0.1 percent of these data were flagged for RFI,","then smoothed to 6.4 km s⁻¹ wide velocity bins.|",">To combine the GBT with the WSRT data, the Com-","mon Astronomy Software Applications (CASA) task","“feather” was used. A detailed description on the combi-","nation procedure is provided in the Appendix. The inte-","grated total 21cm column density map and the velocity","field of NGC 4631 from the combined WSRT/GBT obser-","vations are shown in Fig. 1 with the position of the QSO","indicated with the blue star symbol. The combined data","set provides a spectacular new view on the complex H I","distribution in the tidal gas features around NGC 4631","and NGC 4656, complementing previous deep 21cm ob-","servations (Weliachev et al. 1978; Rand 1994). For the","interpretation of Fig. 1 it is important to note that the ef-","fective angular resolution of the combined dataset varies","with location in the field of view.|",">As opposed to a mosaic, the original WSRT observa-","tions were performed with a single pointing. Because","the standard reduction techniques of imaging and de-","convolution of interferometer data result in a model rep-","resentation of the sky multiplied by the primary-beam","response of the antennas, the true sensitivity of the na-","tive WSRT data follows the response of the primary-","beam and thus decreases towards the edge of the field","of view. Over-plotting the 50 percent (dashed) and 10","percent (dot-dashed) level of the primary beam response","(Fig. 1) according to the numerical model discussed in","Heald et al. (2011) reveals that the disk of NGC 4656 is","well outside the half-power response of the WSRT pri-","mary beam. Effectively, the sensitivity of the original","WSRT data becomes significantly reduced towards the","H I associated with NGC 4656. On the other hand, be-","cause the GBT data were obtained via multiple pointings","over four square degrees, there is no variation in the sen-","sitivity of the single dish data over the same field of view.","As a result, the angular scale of the diffuse emission sur-","rounding NGC 4656 in the combined image is almost cer-","tainly dominated by the angular resolution of the GBT","data. The apparent vertical extent of the diffuse halo","encompassing NGC 4646 of ∼ 20 kpc in the combined","image (Fig. 1) is therefore likely an upper limit.|",">That said, the GBT data detect almost ten times more","H I (in terms of mass) than the native WSRT data, indi-","cating there is extended structure that is both resolved","out by the native WSRT data and missed due to the de-"],4189,105,369,15.93,13.5);
col([">¹ The Green Bank Observatory is a facility of the National Sci-","ence Foundation, operated under a cooperative agreement by As-","sociatedUniversities, Inc.|"],4189,1080,369,13,11,12);
</script>
</body></html>
